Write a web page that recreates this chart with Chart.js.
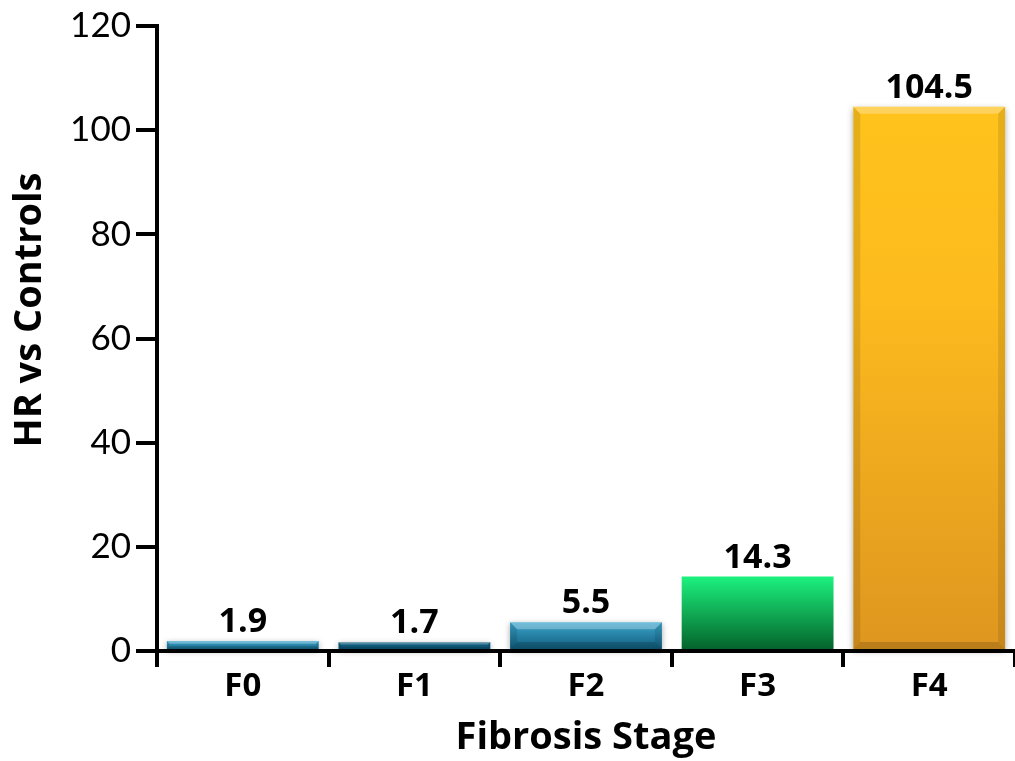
<!DOCTYPE html>
<html lang="en">
<head>
    <meta charset="UTF-8">
    <title>HR vs Controls by Fibrosis Stage</title>
    <script src="https://cdn.jsdelivr.net/npm/chart.js@4.4.1/dist/chart.umd.min.js"></script>
    <style>
        * { margin: 0; padding: 0; box-sizing: border-box; }
        body { background: #fff; width: 1015px; height: 761px; overflow: hidden; }
        #wrap { position: relative; width: 1015px; height: 761px; }
    </style>
</head>
<body>
    <div id="wrap"><canvas id="chart"></canvas></div>

    <script>
        // Data
        const stages = ['F0', 'F1', 'F2', 'F3', 'F4'];
        const hrValues = [1.9, 1.7, 5.5, 14.3, 104.5];
        const yTicks = [0, 20, 40, 60, 80, 100, 120];
        const xTitle = 'Fibrosis Stage';
        const yTitle = 'HR vs Controls';

        // top / bottom colours per bar
        const barTop = ['#3da5cc', '#10607f', '#3da5cc', '#1cf27e', '#ffc31c'];
        const barBottom = ['#0c5877', '#0a5070', '#0c5877', '#046029', '#de961f'];

        // vertical gradient from the bar top down to the axis
        function barFill(ctx) {
            const i = ctx.dataIndex;
            const chart = ctx.chart;
            const y = chart.scales && chart.scales.y;
            if (!y || !chart.chartArea) return barTop[i];
            const top = y.getPixelForValue(hrValues[i]);
            const base = y.getPixelForValue(0);
            const g = chart.ctx.createLinearGradient(0, top, 0, base);
            g.addColorStop(0, barTop[i]);
            if (i === 4) g.addColorStop(0.35, '#fdbb1e');
            g.addColorStop(1, barBottom[i]);
            return g;
        }

        // soft bevel on the bars + value labels + axis titles
        const decorations = {
            id: 'decorations',
            beforeDatasetsDraw(chart) {
                const c = chart.ctx;
                const meta = chart.getDatasetMeta(0);
                c.save();
                meta.data.forEach((bar, i) => {
                    if (i === 3) return;
                    const w = bar.width;
                    c.shadowColor = 'rgba(0,0,0,0.35)';
                    c.shadowBlur = 6;
                    c.shadowOffsetY = 2;
                    c.fillStyle = '#ffffff';
                    c.fillRect(bar.x - w / 2, bar.y, w, bar.base - bar.y);
                });
                c.restore();
            },
            afterDatasetsDraw(chart) {
                const c = chart.ctx;
                const meta = chart.getDatasetMeta(0);
                c.save();
                meta.data.forEach((bar, i) => {
                    if (i === 3) return;
                    const w = bar.width;
                    const h = bar.base - bar.y;
                    const b = Math.min(7, h / 3);
                    const l = bar.x - w / 2, r = bar.x + w / 2;
                    // light top edge
                    c.fillStyle = 'rgba(255,255,255,0.28)';
                    c.beginPath();
                    c.moveTo(l, bar.y); c.lineTo(r, bar.y);
                    c.lineTo(r - b, bar.y + b); c.lineTo(l + b, bar.y + b);
                    c.closePath(); c.fill();
                    // darker sides and bottom
                    c.fillStyle = 'rgba(0,0,0,0.10)';
                    c.beginPath();
                    c.moveTo(l, bar.y); c.lineTo(l + b, bar.y + b);
                    c.lineTo(l + b, bar.base - b); c.lineTo(l, bar.base);
                    c.closePath(); c.fill();
                    c.beginPath();
                    c.moveTo(r, bar.y); c.lineTo(r - b, bar.y + b);
                    c.lineTo(r - b, bar.base - b); c.lineTo(r, bar.base);
                    c.closePath(); c.fill();
                    c.fillStyle = 'rgba(0,0,0,0.16)';
                    c.beginPath();
                    c.moveTo(l, bar.base); c.lineTo(l + b, bar.base - b);
                    c.lineTo(r - b, bar.base - b); c.lineTo(r, bar.base);
                    c.closePath(); c.fill();
                });

                c.fillStyle = '#000';
                c.textAlign = 'center';
                c.textBaseline = 'alphabetic';
                c.font = 'bold 34px "Open Sans"';
                meta.data.forEach((bar, i) => {
                    c.fillText(hrValues[i].toFixed(1), bar.x, bar.y - 9);
                });

                // axis titles
                c.font = 'bold 38px "Open Sans"';
                c.textBaseline = 'middle';
                const area = chart.chartArea;
                c.fillText(xTitle, (area.left + area.right) / 2, 738);
                c.translate(30, 310);
                c.rotate(-Math.PI / 2);
                c.fillText(yTitle, 0, 0);
                c.restore();
            }
        };

        new Chart(document.getElementById('chart'), {
            type: 'bar',
            data: {
                labels: stages,
                datasets: [{
                    label: yTitle,
                    data: hrValues,
                    backgroundColor: barFill,
                    borderWidth: 0,
                    categoryPercentage: 1,
                    barPercentage: 0.885
                }]
            },
            options: {
                responsive: true,
                maintainAspectRatio: false,
                animation: false,
                layout: { padding: { top: 25, right: 0, left: 0, bottom: 0 } },
                plugins: {
                    legend: { display: false },
                    tooltip: { enabled: false }
                },
                scales: {
                    x: {
                        grid: {
                            offset: true,
                            drawOnChartArea: false,
                            tickLength: 16,
                            lineWidth: 4,
                            color: '#000'
                        },
                        border: { width: 4, color: '#000' },
                        ticks: {
                            color: '#000',
                            font: { family: 'Open Sans', size: 33, weight: 'bold' },
                            padding: 0
                        },
                        afterFit(axis) { axis.height = 110; }
                    },
                    y: {
                        min: 0,
                        max: 120,
                        afterBuildTicks(axis) {
                            axis.ticks = yTicks.map(v => ({ value: v }));
                        },
                        grid: {
                            drawOnChartArea: false,
                            tickLength: 21,
                            lineWidth: 4,
                            color: '#000'
                        },
                        border: { width: 4, color: '#000' },
                        ticks: {
                            color: '#000',
                            font: { family: 'Lato', size: 35 },
                            padding: 5
                        },
                        afterFit(axis) { axis.width = 157; }
                    }
                }
            },
            plugins: [decorations]
        });
    </script>
</body>
</html>
